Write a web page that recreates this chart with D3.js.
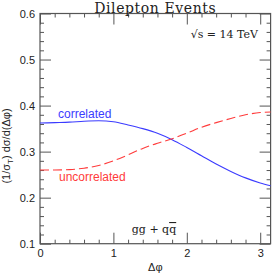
<!DOCTYPE html>
<html>
<head>
<meta charset="utf-8">
<script src="https://cdn.jsdelivr.net/npm/d3@7"></script>
<style>
  html, body { margin: 0; padding: 0; background: #fff; }
  svg { display: block; }
  .tick text { font-family: "Liberation Sans", Arial, sans-serif; font-size: 11px; fill: #222; }
</style>
</head>
<body>
<svg id="chart" width="272" height="275"></svg>
<script>
// ==== Data ====
const dphi = [0, 0.2, 0.4, 0.6, 0.8, 1.0, 1.2, 1.4, 1.6, 1.8, 2.0, 2.2, 2.4, 2.6, 2.8, 3.0, Math.PI];
const correlated = [0.362, 0.363, 0.364, 0.366, 0.367, 0.365, 0.358, 0.350, 0.340, 0.326, 0.309, 0.291, 0.273, 0.257, 0.243, 0.232, 0.226];
const uncorrelated = [0.260, 0.260, 0.261, 0.264, 0.270, 0.280, 0.293, 0.307, 0.318, 0.328, 0.340, 0.353, 0.363, 0.372, 0.380, 0.385, 0.386];
const xTicks = [0, 1, 2, 3];
const yTicks = [0.1, 0.2, 0.3, 0.4, 0.5, 0.6];

// ==== Layout ====
const svg = d3.select("#chart");
const mLeft = 40, mRight = 270.6, mTop = 13.5, mBottom = 243.7;

const x = d3.scaleLinear().domain([0, Math.PI]).range([mLeft, mRight]);
const y = d3.scaleLinear().domain([0.1, 0.6]).range([mBottom, mTop]);

const xMinor = d3.range(0, Math.PI, 0.2).filter(v => Math.abs(v - Math.round(v)) > 1e-6);
const yMinor = d3.range(0.1, 0.6, 0.02).filter(v => Math.abs(v * 10 - Math.round(v * 10)) > 1e-6);

const axisColor = "#555";
const MAJ = 11, MIN = 4;

function styleAxis(g) {
  g.select(".domain").remove();
  g.selectAll(".tick line").attr("stroke", axisColor).attr("stroke-width", 1);
}

// bottom
svg.append("g").attr("transform", `translate(0,${mBottom})`)
  .call(d3.axisBottom(x).tickValues(xTicks).tickSize(-MAJ).tickPadding(6).tickFormat(d3.format("d")))
  .call(styleAxis);
svg.append("g").attr("transform", `translate(0,${mBottom})`)
  .call(d3.axisBottom(x).tickValues(xMinor).tickSize(-MIN).tickFormat(""))
  .call(styleAxis);
// top
svg.append("g").attr("transform", `translate(0,${mTop})`)
  .call(d3.axisTop(x).tickValues(xTicks).tickSize(-MAJ).tickFormat(""))
  .call(styleAxis);
svg.append("g").attr("transform", `translate(0,${mTop})`)
  .call(d3.axisTop(x).tickValues(xMinor).tickSize(-MIN).tickFormat(""))
  .call(styleAxis);
// left
svg.append("g").attr("transform", `translate(${mLeft},0)`)
  .call(d3.axisLeft(y).tickValues(yTicks).tickSize(-MAJ).tickPadding(5).tickFormat(d3.format(".1f")))
  .call(styleAxis);
svg.append("g").attr("transform", `translate(${mLeft},0)`)
  .call(d3.axisLeft(y).tickValues(yMinor).tickSize(-MIN).tickFormat(""))
  .call(styleAxis);
// right
svg.append("g").attr("transform", `translate(${mRight},0)`)
  .call(d3.axisRight(y).tickValues(yTicks).tickSize(-MAJ).tickFormat(""))
  .call(styleAxis);
svg.append("g").attr("transform", `translate(${mRight},0)`)
  .call(d3.axisRight(y).tickValues(yMinor).tickSize(-MIN).tickFormat(""))
  .call(styleAxis);

// frame
svg.append("rect")
  .attr("x", mLeft).attr("y", mTop)
  .attr("width", mRight - mLeft).attr("height", mBottom - mTop)
  .attr("fill", "none").attr("stroke", axisColor).attr("stroke-width", 1.2);

// ==== Curves ====
const line = d3.line()
  .x((d, i) => x(dphi[i]))
  .y(d => y(d))
  .curve(d3.curveMonotoneX);

svg.append("path").datum(correlated)
  .attr("d", line).attr("fill", "none")
  .attr("stroke", "#3b3bff").attr("stroke-width", 1.1);

svg.append("path").datum(uncorrelated)
  .attr("d", line).attr("fill", "none")
  .attr("stroke", "#ff3b3b").attr("stroke-width", 1.1)
  .attr("stroke-dasharray", "9,4");

// ==== Text ====
svg.append("text")
  .attr("x", (mLeft + mRight) / 2).attr("y", 12.5)
  .attr("text-anchor", "middle")
  .attr("font-family", "'DejaVu Serif', serif").attr("font-size", 14)
  .attr("letter-spacing", 0.6)
  .attr("fill", "#222")
  .text("Dilepton Events");

svg.append("text")
  .attr("x", 58).attr("y", 118)
  .attr("font-family", "'Liberation Sans', Arial, sans-serif").attr("font-size", 12)
  .attr("fill", "#3b3bff")
  .text("correlated");

svg.append("text")
  .attr("x", 59).attr("y", 181)
  .attr("font-family", "'Liberation Sans', Arial, sans-serif").attr("font-size", 12)
  .attr("fill", "#ff3b3b")
  .text("uncorrelated");

svg.append("text")
  .attr("x", 258).attr("y", 38)
  .attr("text-anchor", "end")
  .attr("font-family", "'DejaVu Serif', serif").attr("font-size", 11)
  .attr("fill", "#222")
  .text("√s = 14 TeV");

const gq = svg.append("text")
  .attr("x", 154).attr("y", 233)
  .attr("text-anchor", "middle")
  .attr("font-family", "'DejaVu Serif', serif").attr("font-size", 11)
  .attr("fill", "#222");
gq.append("tspan").text("gg + q");
gq.append("tspan").attr("text-decoration", "overline").text("q");

svg.append("text")
  .attr("x", (mLeft + mRight) / 2).attr("y", 271)
  .attr("text-anchor", "middle")
  .attr("font-family", "'Liberation Sans', Arial, sans-serif").attr("font-size", 11)
  .attr("fill", "#222")
  .text("Δφ");

const yl = svg.append("text")
  .attr("transform", "translate(10,146) rotate(-90)")
  .attr("text-anchor", "middle")
  .attr("font-family", "'Liberation Sans', Arial, sans-serif").attr("font-size", 11)
  .attr("fill", "#222");
yl.append("tspan").text("(1/σ");
yl.append("tspan").attr("font-size", 8).attr("dy", 3).text("T");
yl.append("tspan").attr("dy", -3).text(")   dσ/d(Δφ)");
</script>
</body>
</html>
